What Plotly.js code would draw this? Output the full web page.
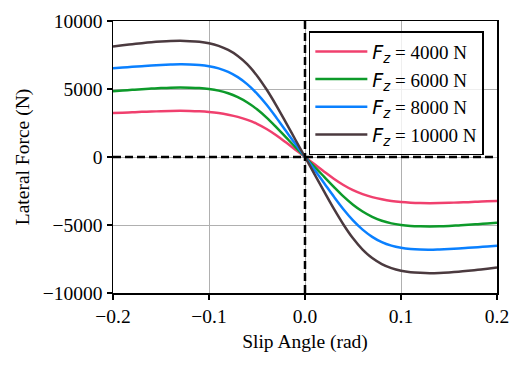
<!DOCTYPE html>
<html>
<head>
<meta charset="utf-8">
<script src="https://cdn.plot.ly/plotly-3.0.1.min.js"></script>
<style>
  html, body { margin: 0; padding: 0; background: #fff; }
  #plot { width: 525px; height: 365px; }
</style>
</head>
<body>
<div id="plot"></div>
<script>
var slip = [-0.20, -0.19, -0.18, -0.17, -0.16, -0.15, -0.14, -0.13, -0.12, -0.11,
            -0.10, -0.09, -0.08, -0.07, -0.06, -0.05, -0.04, -0.03, -0.02, -0.01,
             0.00,
             0.01,  0.02,  0.03,  0.04,  0.05,  0.06,  0.07,  0.08,  0.09,  0.10,
             0.11,  0.12,  0.13,  0.14,  0.15,  0.16,  0.17,  0.18,  0.19,  0.20];

var fz4000 = [3240, 3260, 3290, 3320, 3340, 3370, 3390, 3400, 3390, 3360,
              3310, 3230, 3110, 2950, 2730, 2440, 2060, 1600, 1080, 540,
              0,
              -540, -1080, -1600, -2060, -2440, -2730, -2950, -3110, -3230, -3310,
              -3360, -3390, -3400, -3390, -3370, -3340, -3320, -3290, -3260, -3240];

var fz6000 = [4840, 4890, 4940, 4990, 5030, 5070, 5100, 5110, 5100, 5070,
              5000, 4880, 4690, 4400, 4010, 3510, 2900, 2200, 1460, 720,
              0,
              -720, -1460, -2200, -2900, -3510, -4010, -4400, -4690, -4880, -5000,
              -5070, -5100, -5110, -5100, -5070, -5030, -4990, -4940, -4890, -4840];

var fz8000 = [6530, 6580, 6630, 6680, 6730, 6770, 6800, 6820, 6810, 6770,
              6680, 6520, 6260, 5870, 5340, 4660, 3840, 2910, 1930, 950,
              0,
              -950, -1930, -2910, -3840, -4660, -5340, -5870, -6260, -6520, -6680,
              -6770, -6810, -6820, -6800, -6770, -6730, -6680, -6630, -6580, -6530];

var fz10000 = [8120, 8210, 8290, 8370, 8440, 8490, 8525, 8540, 8520, 8470,
               8360, 8170, 7870, 7430, 6810, 5980, 4960, 3800, 2550, 1270,
               0,
               -1270, -2550, -3800, -4960, -5980, -6810, -7430, -7870, -8170, -8360,
               -8470, -8520, -8540, -8525, -8490, -8440, -8370, -8290, -8210, -8120];

var loads = ['4000', '6000', '8000', '10000'];
var series = [fz4000, fz6000, fz8000, fz10000];
var colors = ['#f0406e', '#0d9a2a', '#0a80ff', '#4b3a3f'];

var data = series.map(function (ys, i) {
  return {
    x: slip,
    y: ys,
    mode: 'lines',
    name: '<span style="font-family:DejaVu Sans"><i>F<sub>z</sub></i></span> = ' + loads[i] + ' N',
    line: { color: colors[i], width: 2.5, shape: 'spline', smoothing: 1 }
  };
});

var serif = 'Liberation Serif, Times New Roman, serif';
var axisFont = { family: serif, size: 19.5, color: '#000' };

var layout = {
  width: 525,
  height: 365,
  margin: { l: 113, r: 28, t: 21, b: 72 },
  paper_bgcolor: '#fff',
  plot_bgcolor: '#fff',
  font: axisFont,
  showlegend: true,
  legend: {
    x: 0.51, y: 0.963, xanchor: 'left', yanchor: 'top',
    bgcolor: 'rgba(255,255,255,0.8)',
    bordercolor: '#000', borderwidth: 1.5,
    font: { family: serif, size: 19, color: '#000' },
    itemwidth: 52,
    tracegroupgap: 0
  },
  xaxis: {
    range: [-0.2, 0.2],
    tickvals: [-0.2, -0.1, 0, 0.1, 0.2],
    ticktext: ['\u22120.2', '\u22120.1', '0.0', '0.1', '0.2'],
    ticks: 'outside', ticklen: 5, tickwidth: 1.5, tickcolor: '#000',
    showline: true, linecolor: '#000', linewidth: 1.5, mirror: true,
    showgrid: true, gridcolor: '#b0b0b0', gridwidth: 1,
    zeroline: false,
    title: { text: 'Slip Angle (rad)', font: axisFont, standoff: 8 }
  },
  yaxis: {
    range: [-10000, 10000],
    tickvals: [-10000, -5000, 0, 5000, 10000],
    ticktext: ['\u221210000', '\u22125000', '0', '5000', '10000'],
    ticks: 'outside', ticklen: 5, tickwidth: 1.5, tickcolor: '#000',
    showline: true, linecolor: '#000', linewidth: 1.5, mirror: true,
    showgrid: true, gridcolor: '#b0b0b0', gridwidth: 1,
    zeroline: false,
    title: { text: 'Lateral Force (N)', font: axisFont, standoff: 8 }
  },
  shapes: [
    { type: 'line', xref: 'paper', yref: 'y', x0: 0, x1: 1, y0: 0, y1: 0,
      line: { color: '#000', width: 2.5, dash: '8px,4px' } },
    { type: 'line', xref: 'x', yref: 'paper', x0: 0, x1: 0, y0: 0, y1: 1,
      line: { color: '#000', width: 2.5, dash: '8px,4px' } }
  ]
};

Plotly.newPlot('plot', data, layout, { displayModeBar: false, staticPlot: true });
</script>
</body>
</html>
